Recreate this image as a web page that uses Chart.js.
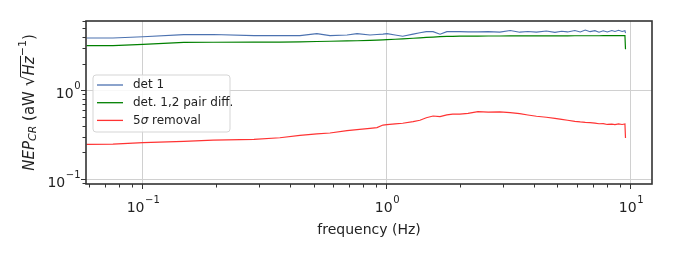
<!DOCTYPE html>
<html>
<head>
<meta charset="utf-8">
<script src="https://cdn.jsdelivr.net/npm/chart.js@4.4.1/dist/chart.umd.min.js"></script>
<style>
  html, body { margin: 0; padding: 0; background: #fff; }
</style>
</head>
<body>
<canvas id="c" width="674" height="253"></canvas>
<script>
// frequency bins (Hz)
const freq = [0.0587, 0.0753, 0.1, 0.147, 0.194, 0.285, 0.364, 0.44, 0.516, 0.584, 0.686, 0.754, 0.852, 0.91, 0.963,
  1.0, 1.08, 1.16, 1.28, 1.365, 1.45, 1.545, 1.65, 1.76, 1.86, 1.99, 2.15, 2.36, 2.6, 2.9, 3.2, 3.5, 3.78, 4.1, 4.5,
  4.88, 5.2, 5.5, 5.89, 6.2, 6.5, 6.8, 7.12, 7.4, 7.7, 8.0, 8.35, 8.6, 8.9, 9.2, 9.45, 9.5];

const det1 = [3.89, 3.89, 4.02, 4.24, 4.25, 4.13, 4.13, 4.13, 4.35, 4.13, 4.2, 4.35, 4.2, 4.25, 4.3,
  4.35, 4.2, 4.06, 4.3, 4.46, 4.58, 4.58, 4.28, 4.58, 4.6, 4.58, 4.55, 4.55, 4.58, 4.53, 4.72, 4.52, 4.6, 4.52, 4.65,
  4.5, 4.62, 4.55, 4.72, 4.55, 4.78, 4.58, 4.7, 4.52, 4.68, 4.55, 4.72, 4.6, 4.75, 4.6, 4.7, 4.4];

const pairDiff = [3.18, 3.18, 3.3, 3.46, 3.48, 3.5, 3.5, 3.52, 3.55, 3.57, 3.6, 3.62, 3.66, 3.68, 3.7,
  3.72, 3.76, 3.8, 3.86, 3.9, 3.94, 3.98, 4.02, 4.05, 4.06, 4.07, 4.08, 4.08, 4.09, 4.09, 4.1, 4.1, 4.1, 4.1, 4.11,
  4.11, 4.11, 4.11, 4.12, 4.12, 4.12, 4.12, 4.12, 4.12, 4.13, 4.13, 4.13, 4.13, 4.13, 4.13, 4.13, 2.9];

const sigmaRemoval = [0.246, 0.248, 0.257, 0.266, 0.275, 0.28, 0.292, 0.31, 0.322, 0.33, 0.351, 0.36, 0.373, 0.38, 0.406,
  0.41, 0.418, 0.425, 0.443, 0.46, 0.49, 0.513, 0.505, 0.528, 0.54, 0.54, 0.55, 0.574, 0.568, 0.572, 0.56, 0.545, 0.527, 0.51, 0.497,
  0.483, 0.47, 0.46, 0.447, 0.44, 0.435, 0.432, 0.426, 0.42, 0.422, 0.412, 0.415, 0.41, 0.418, 0.412, 0.417, 0.29];

const xMajor = [0.1, 1, 10];
const xMinor = [0.06, 0.07, 0.08, 0.09, 0.2, 0.3, 0.4, 0.5, 0.6, 0.7, 0.8, 0.9, 2, 3, 4, 5, 6, 7, 8, 9];
const yMajor = [0.1, 1];
const yMinor = [0.09, 0.2, 0.3, 0.4, 0.5, 0.6, 0.7, 0.8, 0.9, 2, 3, 4, 5, 6];
// tick labels: base 10 with exponent
const tickExp = { '0.1': '\u22121', '1': '0', '10': '1' };

const FONT = 'DejaVu Sans';
const INK = '#222';
Chart.defaults.font.family = FONT;

const pts = arr => freq.map((f, i) => ({ x: f, y: arr[i] }));

// draws "10" with a raised exponent; anchor 'center' or 'right'
function powLabel(ctx, v, x, y, anchor) {
  const e = tickExp[String(v)];
  if (e === undefined) return;
  ctx.font = '14px "' + FONT + '"';
  const wb = ctx.measureText('10').width;
  ctx.font = '10px "' + FONT + '"';
  const we = ctx.measureText(e).width;
  const x0 = anchor === 'right' ? x - wb - we : x - (wb + we) / 2;
  ctx.textBaseline = 'middle';
  ctx.fillStyle = INK;
  ctx.font = '14px "' + FONT + '"';
  ctx.fillText('10', x0, y);
  ctx.font = '10px "' + FONT + '"';
  ctx.fillText(e, x0 + wb + 0.5, y - 8);
}

// frame, minor ticks, tick labels, y title and legend, drawn the matplotlib way
const extras = {
  id: 'extras',
  afterDraw(chart) {
    const ctx = chart.ctx;
    const a = chart.chartArea;
    const xs = chart.scales.x, ys = chart.scales.y;
    ctx.save();

    // minor ticks
    ctx.strokeStyle = '#333';
    ctx.lineWidth = 1;
    ctx.beginPath();
    xMinor.forEach(v => {
      const px = Math.round(xs.getPixelForValue(v)) + 0.5;
      if (px < a.left || px > a.right) return;
      ctx.moveTo(px, a.bottom); ctx.lineTo(px, a.bottom + 3.5);
    });
    yMinor.forEach(v => {
      const py = Math.round(ys.getPixelForValue(v)) + 0.5;
      if (py < a.top || py > a.bottom) return;
      ctx.moveTo(a.left, py); ctx.lineTo(a.left - 3.5, py);
    });
    ctx.stroke();

    // major tick labels
    xMajor.forEach(v => powLabel(ctx, v, xs.getPixelForValue(v), a.bottom + 24, 'center'));
    yMajor.forEach(v => powLabel(ctx, v, a.left - 6, ys.getPixelForValue(v) + 4, 'right'));

    // frame
    ctx.strokeStyle = '#333';
    ctx.lineWidth = 1.6;
    ctx.strokeRect(a.left, a.top, a.right - a.left, a.bottom - a.top);

    // legend
    const lx = 93, ly = 75, lw = 137, lh = 57;
    ctx.beginPath();
    ctx.roundRect(lx, ly, lw, lh, 3);
    ctx.fillStyle = 'rgba(255,255,255,0.85)';
    ctx.fill();
    ctx.strokeStyle = '#d5d5d5';
    ctx.lineWidth = 1;
    ctx.stroke();
    ctx.textBaseline = 'middle';
    chart.data.datasets.forEach((ds, i) => {
      const yy = 85 + i * 17.7;
      ctx.strokeStyle = ds.borderColor;
      ctx.lineWidth = 1.3;
      ctx.beginPath();
      ctx.moveTo(97, yy); ctx.lineTo(123, yy);
      ctx.stroke();
      ctx.fillStyle = INK;
      let tx = 133;
      ds.labelParts.forEach(p => {
        ctx.font = (p.italic ? 'italic ' : '') + '12px "' + FONT + '"';
        ctx.fillText(p.t, tx, yy);
        tx += ctx.measureText(p.t).width;
      });
    });

    // y-axis title
    ctx.translate(30, (a.top + a.bottom) / 2);
    ctx.rotate(-Math.PI / 2);
    const parts = [
      { t: 'NEP', f: 'italic 15px', dy: 0 },
      { t: 'CR', f: 'italic 11px', dy: 3.5 },
      { t: ' (aW ', f: '15px', dy: 0 },
      { t: '\u221A', f: '17px', dy: 0 },
      { t: 'Hz', f: 'italic 15px', dy: 0, bar: true },
      { t: '\u22121', f: '11px', dy: -6.5 },
      { t: ')', f: '15px', dy: 0 }
    ];
    let total = 0;
    parts.forEach(p => { ctx.font = p.f + ' "' + FONT + '"'; p.w = ctx.measureText(p.t).width; total += p.w; });
    let x0 = -total / 2;
    ctx.fillStyle = INK;
    ctx.textBaseline = 'middle';
    parts.forEach(p => {
      ctx.font = p.f + ' "' + FONT + '"';
      ctx.fillText(p.t, x0, p.dy);
      if (p.bar) {
        ctx.strokeStyle = INK;
        ctx.lineWidth = 1;
        ctx.beginPath();
        ctx.moveTo(x0 - 1, -9.5); ctx.lineTo(x0 + p.w + 0.5, -9.5);
        ctx.stroke();
      }
      x0 += p.w;
    });
    ctx.restore();
  }
};

new Chart(document.getElementById('c'), {
  type: 'line',
  data: {
    datasets: [
      { label: 'det 1', labelParts: [{ t: 'det 1' }], data: pts(det1), borderColor: '#4c72b0', borderWidth: 1.1 },
      { label: 'det. 1,2 pair diff.', labelParts: [{ t: 'det. 1,2 pair diff.' }], data: pts(pairDiff), borderColor: '#008000', borderWidth: 1.2 },
      { label: '5\u03C3 removal', labelParts: [{ t: '5' }, { t: '\u03C3', italic: true }, { t: ' removal' }], data: pts(sigmaRemoval), borderColor: '#ff3333', borderWidth: 1.2 }
    ]
  },
  options: {
    responsive: false,
    animation: false,
    layout: { padding: { top: 21, right: 22, left: 0, bottom: 0 } },
    elements: { point: { radius: 0 }, line: { tension: 0 } },
    plugins: { legend: { display: false }, tooltip: { enabled: false } },
    scales: {
      x: {
        type: 'logarithmic',
        min: 0.0584,
        max: 12.2,
        afterBuildTicks: s => { s.ticks = xMajor.map(v => ({ value: v })); },
        afterFit: s => { s.height = 69; },
        border: { display: false },
        grid: { color: '#d0d0d0', lineWidth: 1, tickColor: '#333', tickLength: 5 },
        ticks: { autoSkip: false, maxRotation: 0, padding: 3, font: { size: 14 }, callback: () => '' },
        title: { display: true, text: 'frequency (Hz)', color: INK, font: { size: 14 }, padding: { top: 0, bottom: 14 } }
      },
      y: {
        type: 'logarithmic',
        min: 0.0879,
        max: 6.04,
        afterBuildTicks: s => { s.ticks = yMajor.map(v => ({ value: v })); },
        afterFit: s => { s.width = 86; },
        border: { display: false },
        grid: { color: '#d0d0d0', lineWidth: 1, tickColor: '#333', tickLength: 5 },
        ticks: { autoSkip: false, padding: 3, font: { size: 14 }, callback: () => '' }
      }
    }
  },
  plugins: [extras]
});
</script>
</body>
</html>
